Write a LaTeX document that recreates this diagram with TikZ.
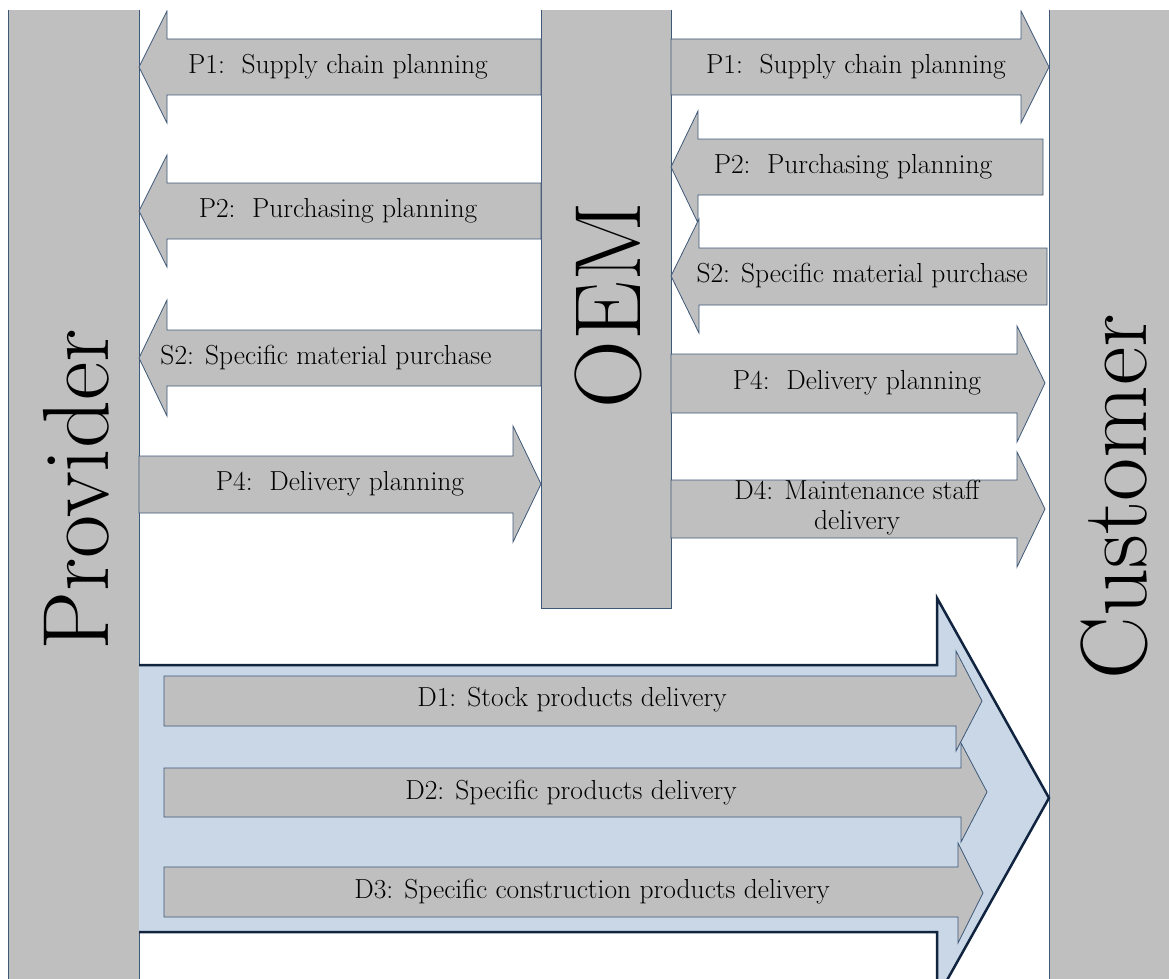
\documentclass[tikz,border=0pt]{standalone}
\usepackage{fontspec}
\definecolor{barfill}{HTML}{BFBFBF}
\definecolor{edge}{HTML}{3E5878}
\definecolor{flowblue}{HTML}{C9D7E7}
\definecolor{navy}{HTML}{10243F}
\tikzset{
  block/.style={fill=barfill, draw=edge, line width=0.8pt},
  lbl/.style={font=\fontsize{27.5}{30}\selectfont, align=center, inner sep=0pt},
  big/.style={font=\fontsize{94}{94}\selectfont, rotate=90, inner sep=0pt},
}

\begin{document}
\begin{tikzpicture}[x=1pt, y=-1pt]
    \useasboundingbox (0,0) rectangle (1169,979);
    \begin{scope}
    \clip (0,11) rectangle (1169,979);

    % the three bars
    \filldraw[block] (8,0) rectangle (139,995);
    \filldraw[block] (1049,0) rectangle (1180,995);
    \filldraw[block] (541,0) rectangle (671,608);

    % OEM -> provider side
    \filldraw[block] (541,39) -- (167,39) -- (167,11) -- (139,67) -- (167,123) -- (167,95) -- (541,95) -- cycle;
    \filldraw[block] (541,183) -- (167,183) -- (167,155) -- (139,211) -- (167,267) -- (167,239) -- (541,239) -- cycle;
    \filldraw[block] (541,330) -- (167,330) -- (167,300) -- (139,358) -- (167,416) -- (167,386) -- (541,386) -- cycle;
    \filldraw[block] (139,456) -- (513,456) -- (513,426) -- (541,484) -- (513,542) -- (513,513) -- (139,513) -- cycle;

    % OEM <-> customer side
    \filldraw[block] (671,39) -- (1021,39) -- (1021,11) -- (1049,67) -- (1021,123) -- (1021,95) -- (671,95) -- cycle;
    \filldraw[block] (1043,139) -- (698,139) -- (698,111) -- (671,167) -- (698,223) -- (698,195) -- (1043,195) -- cycle;
    \filldraw[block] (1047,248) -- (699,248) -- (699,219) -- (671,276) -- (699,333) -- (699,305) -- (1047,305) -- cycle;
    \filldraw[block] (671,354) -- (1017,354) -- (1017,326) -- (1045,383) -- (1017,442) -- (1017,413) -- (671,413) -- cycle;
    \filldraw[block] (671,480) -- (1017,480) -- (1017,452) -- (1045,509) -- (1017,567) -- (1017,538) -- (671,538) -- cycle;

    % big delivery arrow
    \fill[flowblue] (139,665) -- (937,665) -- (937,598) -- (1049,798) -- (937,998) -- (937,932) -- (139,932) -- cycle;
    \draw[navy, line width=2.5pt, line join=miter] (139,665) -- (937,665) -- (937,598) -- (1049,798) -- (937,998) -- (937,932) -- (139,932);
    \filldraw[block] (164,676) -- (956,676) -- (956,651) -- (982,701) -- (956,751) -- (956,726) -- (164,726) -- cycle;
    \filldraw[block] (164,768) -- (961,768) -- (961,743) -- (987,792) -- (961,842) -- (961,817) -- (164,817) -- cycle;
    \filldraw[block] (164,867) -- (958,867) -- (958,843) -- (983,893) -- (958,943) -- (958,917) -- (164,917) -- cycle;
    \end{scope}

    % labels
    \node[big] (provider) at (76,490) {Provider};
    \node[big] (oem) at (608,305) {OEM};
    \node[big] (customer) at (1114,497) {Customer};

    \node[lbl] (lp1) at (338,67) {P1:\ \ Supply chain planning};
    \node[lbl] (lp2) at (338,211) {P2:\ \ Purchasing planning};
    \node[lbl] (ls2) at (326,358) {S2: Specific material purchase};
    \node[lbl] (lp4) at (340,484) {P4:\ \ Delivery planning};

    \node[lbl] (rp1) at (856,67) {P1:\ \ Supply chain planning};
    \node[lbl] (rp2) at (853,167) {P2:\ \ Purchasing planning};
    \node[lbl] (rs2) at (862,276) {S2: Specific material purchase};
    \node[lbl] (rp4) at (857,383) {P4:\ \ Delivery planning};
    \node[lbl] (rd4) at (857,508) {D4: Maintenance staff\\delivery};

    \node[lbl] (d1) at (572,700) {D1: Stock products delivery};
    \node[lbl] (d2) at (571,793) {D2: Specific products delivery};
    \node[lbl] (d3) at (592,892) {D3: Specific construction products delivery};
\end{tikzpicture}
\end{document}
